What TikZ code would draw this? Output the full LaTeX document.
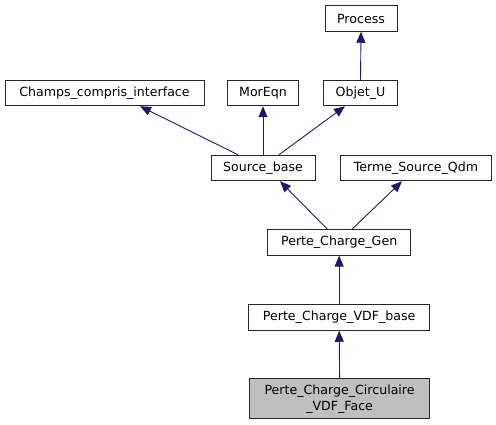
\documentclass[tikz,border=0pt]{standalone}
\usepackage{fontspec}
\setmainfont{DejaVu Sans}
\usetikzlibrary{arrows.meta}
\definecolor{edgeblue}{RGB}{25,25,112}

\begin{document}
\begin{tikzpicture}[x=1pt, y=-1pt,
		cls/.style={draw=black!85, line width=1pt, inner sep=0pt, minimum height=25.5pt, font=\fontsize{12.6}{16}\selectfont, align=center},
		inh/.style={draw=edgeblue, line width=0.9pt, -{Triangle[length=11pt,width=9pt]}}]
			%%%%% START %%%%%
			
			\useasboundingbox (0, 0) rectangle (496, 425);
			
			\node[cls, minimum width=72pt] (process) at (361, 18.5) {Process};
			
			\node[cls, minimum width=199pt] (champs) at (104.5, 93) {Champs\_compris\_interface};
			\node[cls, minimum width=70.5pt] (moreqn) at (263, 93) {MorEqn};
			\node[cls, minimum width=74.5pt] (objetu) at (360.5, 93) {Objet\_U};
			
			\node[cls, minimum width=104pt] (sourcebase) at (263, 168) {Source\_base};
			\node[cls, minimum width=151.5pt] (terme) at (416, 168) {Terme\_Source\_Qdm};
			
			\node[cls, minimum width=143pt] (pcgen) at (339.2, 242.3) {Perte\_Charge\_Gen};
			\node[cls, minimum width=181.5pt] (pcvdf) at (339.2, 317.5) {Perte\_Charge\_VDF\_base};
			\node[cls, fill=black!25, minimum width=179.5pt, minimum height=39.5pt] (pccirc) at (339.6, 398.7) {Perte\_Charge\_Circulaire\\\_VDF\_Face};
			
			% inheritance edges
			\draw[inh] (objetu.north) -- (process.south);
			\draw[inh] ([xshift=-25pt]sourcebase.north) -- ([xshift=35.5pt]champs.south);
			\draw[inh] (sourcebase.north) -- (moreqn.south);
			\draw[inh] ([xshift=16pt]sourcebase.north) -- ([xshift=-15.5pt]objetu.south);
			\draw[inh] ([xshift=-12pt]pcgen.north) -- ([xshift=17pt]sourcebase.south);
			\draw[inh] ([xshift=13pt]pcgen.north) -- ([xshift=-14pt]terme.south);
			\draw[inh] (pcvdf.north) -- (pcgen.south);
			\draw[inh] (pccirc.north) -- (pcvdf.south);
			
			%%%%% END %%%%%
		\end{tikzpicture}
\end{document}
